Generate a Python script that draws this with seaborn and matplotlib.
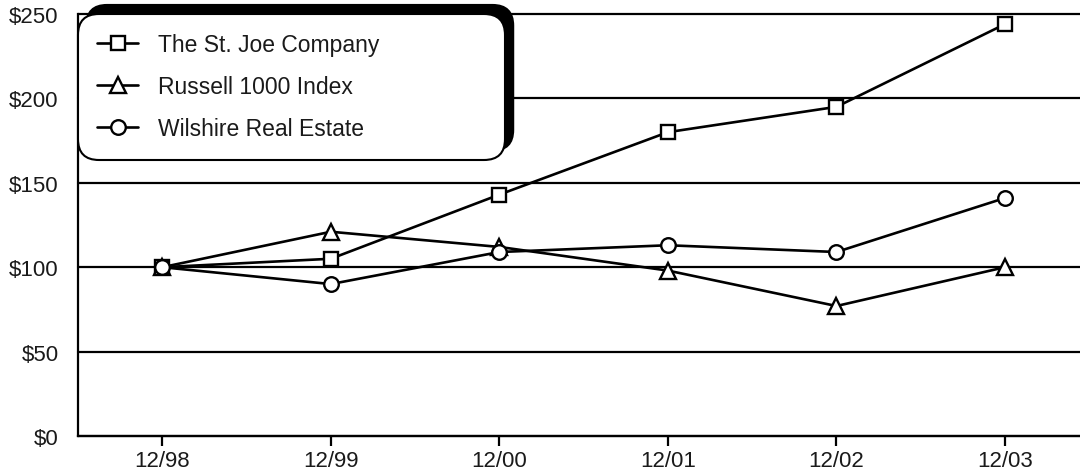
import seaborn as sns
import matplotlib.pyplot as plt
import pandas as pd

# Values
years = ["12/98", "12/99", "12/00", "12/01", "12/02", "12/03"]
st_joe = [100, 105, 143, 180, 195, 244]
russell = [100, 121, 112, 98, 77, 100]
wilshire = [100, 90, 109, 113, 109, 141]
series_names = ["The St. Joe Company", "Russell 1000 Index", "Wilshire Real Estate"]
series_markers = ["s", "^", "o"]
y_ticks = [0, 50, 100, 150, 200, 250]


def main():
    sns.set_style("white")
    plt.rcParams["font.family"] = ["Liberation Sans", "DejaVu Sans"]

    fig = plt.figure(figsize=(10.8, 4.77), dpi=100)
    ax = fig.add_axes([78 / 1080, 40 / 477, 1 - 78 / 1080, 422 / 477])

    sizes = {"s": 10, "^": 11, "o": 10.5}
    for name, vals, mk in zip(series_names, [st_joe, russell, wilshire], series_markers):
        df = pd.DataFrame({"year": years, "value": vals})
        sns.lineplot(
            data=df, x="year", y="value", ax=ax,
            color="black", linewidth=1.9, marker=mk, markersize=sizes[mk],
            markerfacecolor="white", markeredgecolor="black",
            markeredgewidth=1.7, label=name, legend=False,
        )

    ax.set_xlim(-0.5, 5.445)
    ax.set_ylim(0, 250)
    ax.set_yticks(y_ticks)
    ax.set_yticklabels([f"${v}" for v in y_ticks])
    ax.set_xlabel("")
    ax.set_ylabel("")

    ax.grid(axis="y", color="black", linewidth=1.6)
    ax.grid(axis="x", visible=False)
    ax.set_axisbelow(True)
    for side in ["top", "right"]:
        ax.spines[side].set_visible(False)
    for side in ["left", "bottom"]:
        ax.spines[side].set_color("black")
        ax.spines[side].set_linewidth(1.6)
    for gl in ax.get_ygridlines():
        gl.set_clip_on(False)

    ax.tick_params(axis="y", length=0, pad=14, labelsize=16, labelcolor="#1a1a1a")
    ax.tick_params(axis="x", length=7, width=1.6, color="black", pad=3,
                   labelsize=16, labelcolor="#1a1a1a", bottom=True)

    leg = ax.legend(
        loc="upper left", bbox_to_anchor=(0, 0.6, 0.426, 0.4), mode="expand",
        borderaxespad=0, fontsize=16.5, handlelength=1.75, handletextpad=0.9,
        labelspacing=0.82, borderpad=0.85, frameon=True, fancybox=True,
        shadow={"ox": 6, "oy": 6.5, "color": "black", "alpha": 1},
    )
    frame = leg.get_frame()
    frame.set_edgecolor("black")
    frame.set_linewidth(1.5)
    frame.set_facecolor("white")
    frame.set_alpha(1)
    leg.legendPatch.set_boxstyle("round,pad=0,rounding_size=0.9")
    for t in leg.get_texts():
        t.set_color("#1a1a1a")

    fig.savefig("out.png", dpi=100)


if __name__ == "__main__":
    main()
